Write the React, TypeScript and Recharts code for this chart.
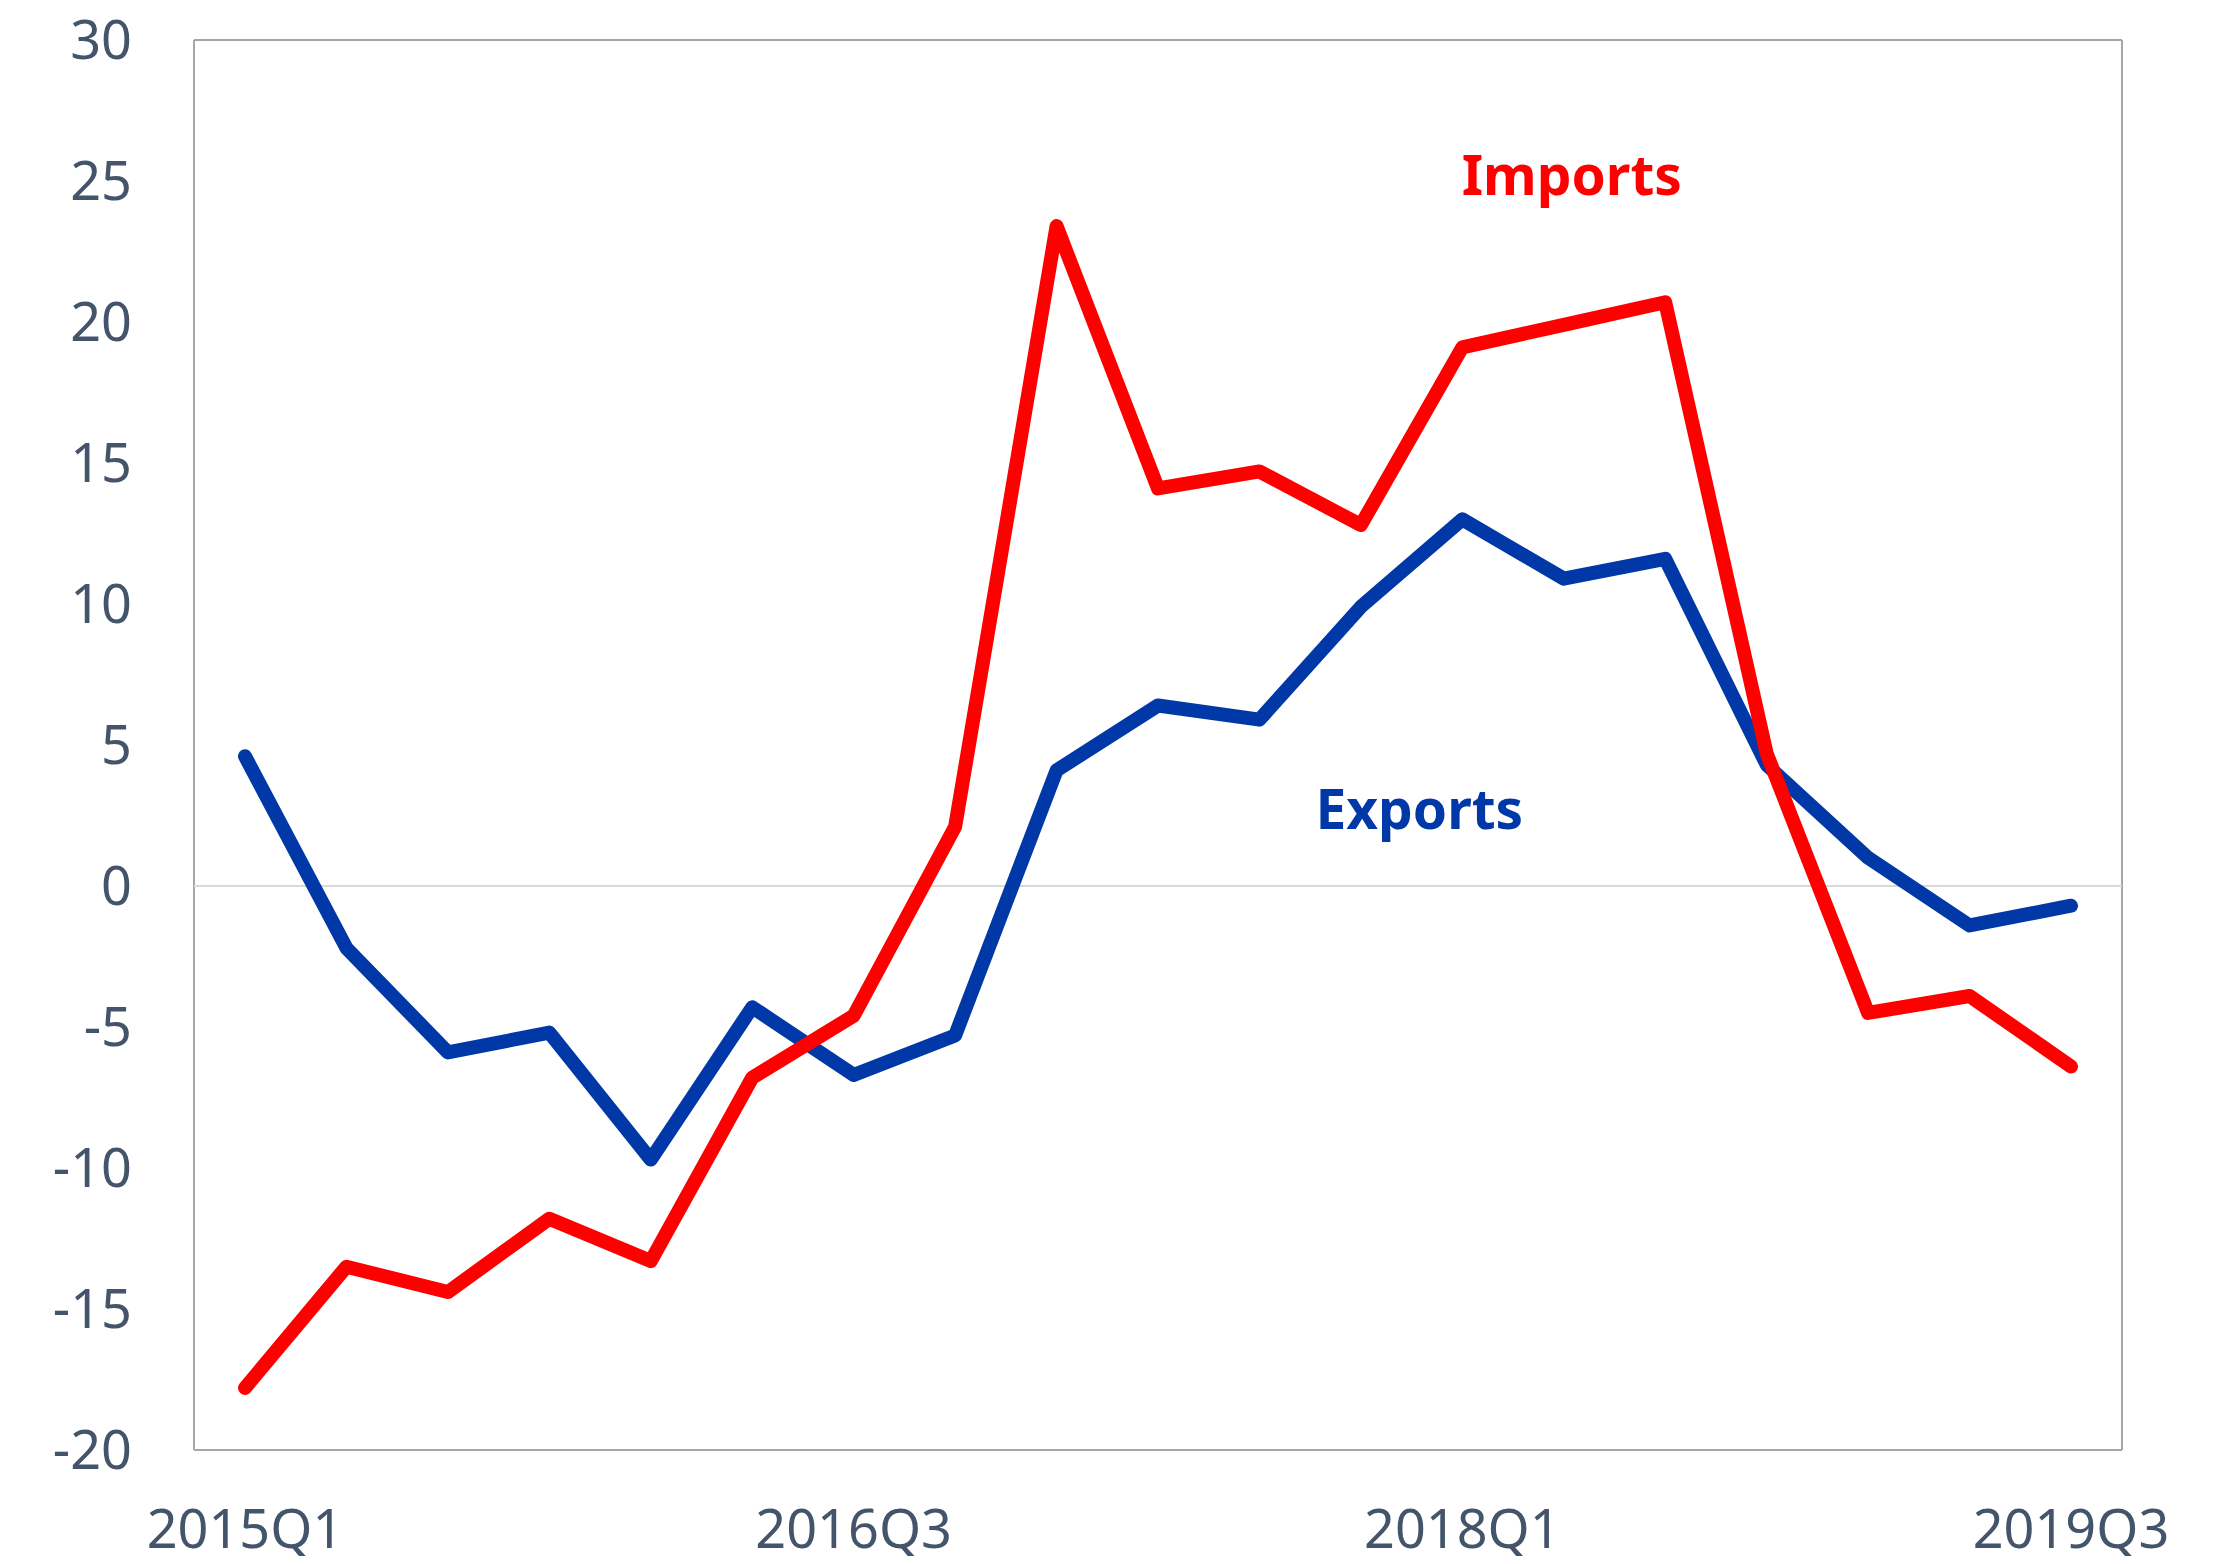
import { LineChart, Line, XAxis, YAxis, CartesianGrid, ReferenceLine, ReferenceDot } from 'recharts';

const quarters = [
  '2015Q1', '2015Q2', '2015Q3', '2015Q4',
  '2016Q1', '2016Q2', '2016Q3', '2016Q4',
  '2017Q1', '2017Q2', '2017Q3', '2017Q4',
  '2018Q1', '2018Q2', '2018Q3', '2018Q4',
  '2019Q1', '2019Q2', '2019Q3',
];

const exportsGrowth = [4.6, -2.2, -5.9, -5.2, -9.7, -4.3, -6.7, -5.3, 4.1, 6.4, 5.9, 9.9, 13.0, 10.9, 11.6, 4.3, 1.0, -1.4, -0.7];
const importsGrowth = [-17.8, -13.5, -14.4, -11.8, -13.3, -6.8, -4.6, 2.1, 23.4, 14.1, 14.7, 12.8, 19.1, 19.9, 20.7, 4.7, -4.5, -3.9, -6.4];

const yTicks = [-20, -15, -10, -5, 0, 5, 10, 15, 20, 25, 30];

const data = quarters.map((q, i) => ({
  quarter: q,
  exports: exportsGrowth[i],
  imports: importsGrowth[i],
}));

const FONT = '"Noto Sans", "Open Sans", sans-serif';
const TICK_COLOR = '#44546A';
const RED = '#FF0000';
const BLUE = '#0039A7';

// plot frame: grid lines only at the edges of the plot area
const frameX = ({ offset }: any) => [offset.left, offset.left + offset.width];
const frameY = ({ offset }: any) => [offset.top, offset.top + offset.height];

const App = () => {
  return (
    <div style={{ margin: -8, width: 2224, height: 1564, background: '#fff' }}>
      <LineChart
        width={2224}
        height={1564}
        data={data}
        margin={{ top: 40, right: 102, bottom: 0, left: 74 }}
      >
        <CartesianGrid
          stroke="#A6A6A6"
          strokeWidth={2}
          verticalCoordinatesGenerator={frameX}
          horizontalCoordinatesGenerator={frameY}
        />
        <XAxis
          dataKey="quarter"
          interval={5}
          height={114}
          padding={{ left: 51, right: 51 }}
          tickLine={false}
          axisLine={false}
          tickSize={0}
          tickMargin={60}
          tick={{ fill: TICK_COLOR, fontSize: 54, fontFamily: FONT }}
        />
        <YAxis
          domain={[-20, 30]}
          ticks={yTicks}
          width={120}
          tickLine={false}
          axisLine={false}
          tickSize={0}
          tickMargin={62}
          tick={{ fill: TICK_COLOR, fontSize: 54, fontFamily: FONT }}
        />
        <ReferenceLine y={0} stroke="#D9D9D9" strokeWidth={2} />
        <Line
          type="linear"
          dataKey="exports"
          stroke={BLUE}
          strokeWidth={14}
          strokeLinecap="round"
          strokeLinejoin="round"
          dot={false}
          isAnimationActive={false}
        />
        <Line
          type="linear"
          dataKey="imports"
          stroke={RED}
          strokeWidth={14}
          strokeLinecap="round"
          strokeLinejoin="round"
          dot={false}
          isAnimationActive={false}
        />
        <ReferenceDot
          x="2018Q2"
          y={25.2}
          r={0}
          stroke="none"
          label={{ value: 'Imports', position: 'center', dx: 8, fill: RED, fontSize: 55, fontWeight: 700, fontFamily: FONT }}
        />
        <ReferenceDot
          x="2018Q1"
          y={2.7}
          r={0}
          stroke="none"
          label={{ value: 'Exports', position: 'center', dx: -43, fill: BLUE, fontSize: 55, fontWeight: 700, fontFamily: FONT }}
        />
      </LineChart>
    </div>
  );
};

export default App;
